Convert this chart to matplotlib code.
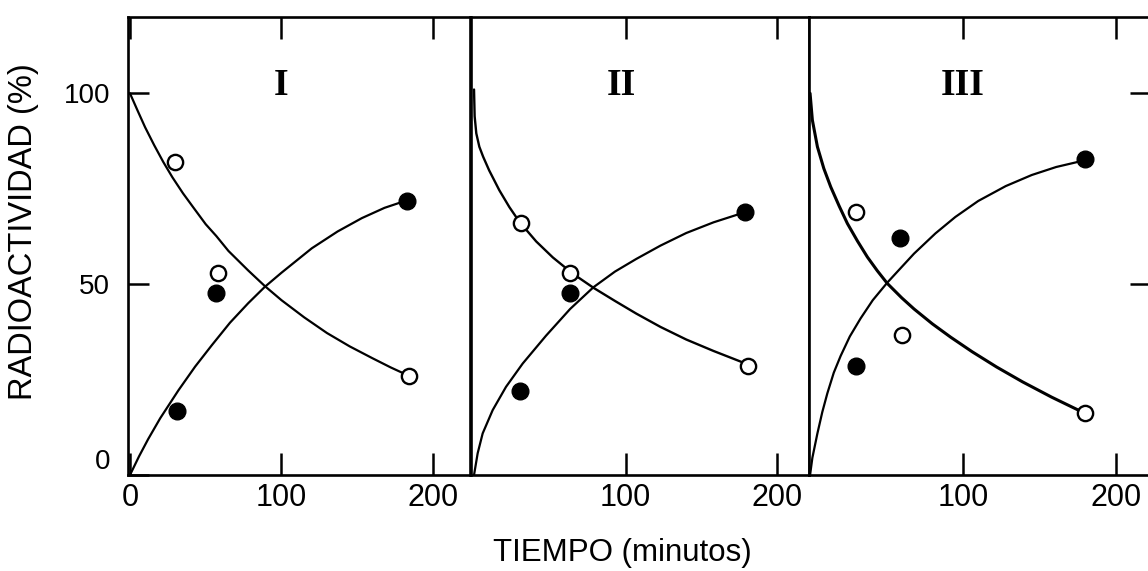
import matplotlib
matplotlib.use('Agg')
import matplotlib.pyplot as plt

# fonts: narrow sans for the digits, like the old stencil lettering
plt.rcParams['font.family'] = ['Liberation Sans Narrow', 'Liberation Sans', 'DejaVu Sans']

# DATA
panel_names = ['I', 'II', 'III']

# open circles
open_t = [[30, 58, 184], [31, 63, 181], [30, 60, 180]]
open_y = [[82, 53, 26], [66, 53, 28.6], [69, 36.8, 16.2]]
# filled circles
fill_t = [[31, 57, 183], [30, 63, 179], [30, 59, 180]]
fill_y = [[16.8, 47.6, 71.8], [22, 47.6, 68.9], [28.6, 62, 82.9]]

# drawn curves (decreasing one and increasing one, per panel)
down_t = [[0, 5, 10, 16, 22, 28, 35, 42, 50, 57, 65, 78, 89, 100, 115, 130, 145, 160, 172, 184],
          [0, 0.4, 1.5, 3.5, 6, 10, 16.7, 23.3, 30, 41, 52, 65, 79, 93, 107, 123, 140, 158, 176, 181],
          [0, 1.5, 4.8, 9, 13.5, 19, 24.4, 31, 37.5, 44, 50.5, 60, 68, 80, 92, 106, 122, 139, 158, 176, 180]]
down_y = [[100, 95.5, 91.1, 86.4, 82, 78, 73.8, 70, 65.7, 62.6, 58.7, 53.6, 49.5, 45.8, 41.3, 37.2, 33.7, 30.6, 28.2, 26],
          [101, 94, 89.5, 86, 83.4, 79.8, 74.6, 70.2, 66.3, 61.2, 57, 52.8, 49, 45.6, 42.3, 38.8, 35.5, 32.5, 29.7, 28.8],
          [100, 93, 86, 80.3, 75.5, 70.5, 65.9, 61.3, 57.1, 53.5, 50.2, 46.4, 43.5, 39.6, 36.1, 32.3, 28.3, 24.4, 20.4, 16.9, 16.2]]
up_t = [[0, 6, 12, 20, 32, 43, 54, 66, 78, 89, 100, 120, 137, 153, 168, 183],
        [0, 2.4, 5.7, 12.3, 21.1, 32.1, 47.5, 63.4, 78.8, 93, 107, 123, 140, 158, 176, 179],
        [0, 1.5, 4.8, 8, 11.3, 15.5, 20, 26, 33, 41, 50.5, 59, 68, 82, 95, 110, 128, 145, 161, 178, 180]]
up_y = [[0, 4.9, 9.4, 14.9, 22.2, 28.4, 34, 39.9, 45, 49.3, 53, 59.4, 63.8, 67.3, 70, 72],
        [0, 5.7, 10.9, 17, 23.1, 29.2, 36.5, 43.5, 49.2, 53.3, 56.6, 60.1, 63.4, 66.2, 68.5, 68.9],
        [0, 4.5, 10.9, 16.5, 21.4, 26.8, 31.2, 36.3, 41, 45.8, 50.4, 54.1, 58, 63.3, 67.6, 71.8, 75.7, 78.6, 80.7, 82.3, 82.5]]

# LAYOUT (pixels of a 1148x571 canvas)
W, H = 1148., 571.
lefts = [128, 471, 809]
rights = [470, 809, 1151]
bottom, top = 475, 17
xlims = [(-1.3, 224.4), (-2, 221), (-0.7, 223)]
numeral_t = [100, 97, 100]
down_lw = [1.6, 1.7, 2.2]

fig = plt.figure(figsize=(W / 100, H / 100), dpi=100)

for i in range(3):
    ax = fig.add_axes([lefts[i] / W, 1 - bottom / H,
                       (rights[i] - lefts[i]) / W, (bottom - top) / H])
    ax.set_xlim(*xlims[i])
    ax.set_ylim(0, 120)
    for s in ax.spines.values():
        s.set_linewidth(1.9)

    # curves
    ax.plot(down_t[i], down_y[i], color='k', lw=down_lw[i],
            solid_capstyle='round', solid_joinstyle='round', zorder=2)
    ax.plot(up_t[i], up_y[i], color='k', lw=1.6,
            solid_capstyle='round', solid_joinstyle='round', zorder=2)
    # points
    ax.plot(open_t[i], open_y[i], 'o', ms=11, mfc='white', mec='k', mew=1.7, ls='none', zorder=3)
    ax.plot(fill_t[i], fill_y[i], 'o', ms=12, mfc='k', mec='k', ls='none', zorder=3)

    # roman numeral
    ax.text(numeral_t[i], 102, panel_names[i], ha='center', va='center',
            family=['Liberation Serif', 'DejaVu Serif'], fontweight='bold', fontsize=27)

    # x ticks
    if i == 0:
        ax.set_xticks([0, 100, 200])
    else:
        ax.set_xticks([100, 200])
    ax.tick_params(axis='x', direction='in', length=16, width=1.8, top=True,
                   labelsize=22, pad=6)

    # y ticks
    if i == 0:
        ax.set_yticks([0, 50, 100])
        ax.tick_params(axis='y', direction='in', length=15, width=1.8,
                       labelsize=20, pad=13)
        ax.get_yticklabels()[0].set_va('bottom')
    elif i == 2:
        ax.set_yticks([50, 100])
        ax.yaxis.set_ticks_position('right')
        ax.tick_params(axis='y', direction='in', length=15, width=1.8,
                       labelright=False)
    else:
        ax.set_yticks([])

fig.text(24 / W, 1 - 232 / H, 'RADIOACTIVIDAD (%)', rotation=90, ha='center', va='center',
         family=['Liberation Sans', 'DejaVu Sans'], fontsize=23.5)
fig.text(622 / W, 1 - 553 / H, 'TIEMPO (minutos)', ha='center', va='center',
         family=['Liberation Sans', 'DejaVu Sans'], fontsize=22.5)

fig.savefig('out.png', dpi=100)
